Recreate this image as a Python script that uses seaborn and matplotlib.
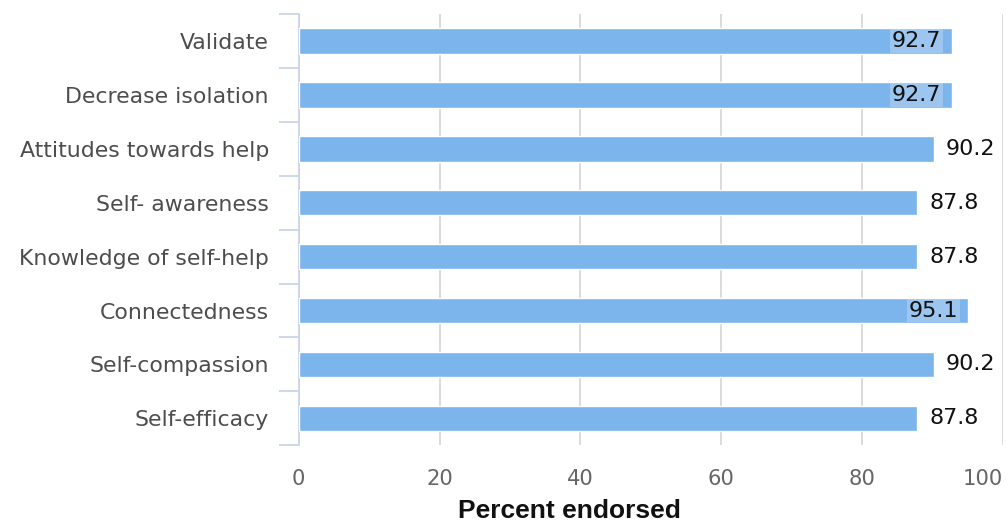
import matplotlib
matplotlib.use("Agg")
import matplotlib.pyplot as plt
import seaborn as sns
import pandas as pd
import numpy as np

categories = ["Validate", "Decrease isolation", "Attitudes towards help", "Self- awareness",
              "Knowledge of self-help", "Connectedness", "Self-compassion", "Self-efficacy"]
values = [92.7, 92.7, 90.2, 87.8, 87.8, 95.1, 90.2, 87.8]
xticks = [0, 20, 40, 60, 80, 100]

df = pd.DataFrame({"category": categories, "value": values})

sns.set_theme(style="white")
plt.rcParams['font.family'] = ['DejaVu Sans']

fig = plt.figure(figsize=(10.06, 5.25), dpi=100)
ax = fig.add_axes([0.297, 0.152, 0.700, 0.821])

sns.barplot(data=df, x="value", y="category", orient="h", color="#7cb5ec",
            saturation=1, width=0.47, ax=ax, zorder=3)

ax.set_xlim(0, 100)
ax.set_ylim(len(categories) - 0.5, -0.5)
ax.set_xticks(xticks)
ax.set_xticklabels([str(t) for t in xticks], fontsize=15.2, color="#666666")
ax.get_xticklabels()[-1].set_horizontalalignment("right")
ax.tick_params(axis="x", length=0, pad=17)
ax.grid(axis="x", color="#d8d8d8", linewidth=1.3, zorder=0)
ax.set_axisbelow(True)

for s in ["top", "right", "bottom"]:
    ax.spines[s].set_visible(False)
ax.spines["left"].set_color("#ccd6eb")
ax.spines["left"].set_linewidth(1.3)

ax.set_yticks(range(len(categories)))
ax.set_yticklabels(categories, fontsize=15.8, color="#4d4d4d")
ax.tick_params(axis="y", which="major", length=0, pad=21.5)
ax.set_yticks(np.arange(-0.5, len(categories), 1), minor=True)
ax.tick_params(axis="y", which="minor", left=True, length=14.4, width=1.3, color="#ccd6eb")

ax.set_ylabel("")
ax.set_xlabel("Percent endorsed", fontsize=19, fontweight="bold",
              family=["Liberation Sans"], color="#111111")
ax.xaxis.set_label_coords(0.384, -0.125)

for i, v in enumerate(values):
    if v > 92:
        ax.text(v - 1.5, i, f"{v}", ha="right", va="center", fontsize=16, color="#111111",
                zorder=5, bbox=dict(boxstyle="square,pad=0.08", facecolor="#b3d3f4",
                                    edgecolor="none", alpha=0.6))
    else:
        ax.text(v + 1.7, i, f"{v}", ha="left", va="center", fontsize=16, color="#111111",
                zorder=5)

fig.savefig("out.png", dpi=100)
